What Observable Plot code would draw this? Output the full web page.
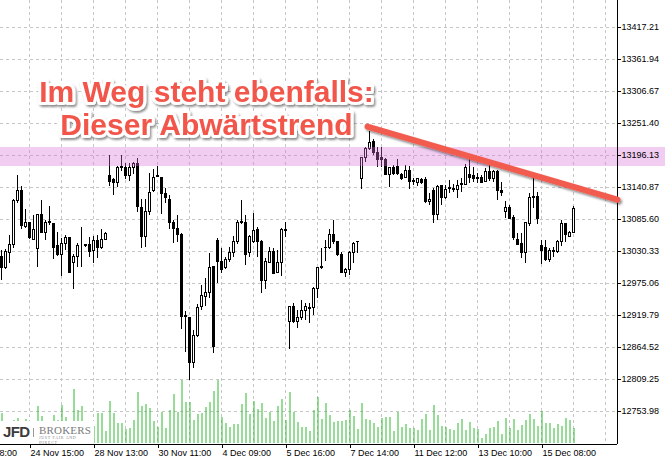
<!DOCTYPE html>
<html><head><meta charset="utf-8">
<script src="https://cdn.jsdelivr.net/npm/d3@7"></script>
<script src="https://cdn.jsdelivr.net/npm/@observablehq/plot@0.6"></script>
<style>
html,body{margin:0;padding:0;background:#fff;}
#wrap{position:relative;width:665px;height:461px;overflow:hidden;background:#fff;}
#wrap svg{position:absolute;left:0;top:0;}
#wrap svg line, #wrap svg rect{shape-rendering:crispEdges;}
#wrap svg.vol line{shape-rendering:auto;}
#logo{position:absolute;left:0;top:421px;width:94px;height:22px;background:#fff;}
#logo .jfd{position:absolute;left:3px;top:2px;font:bold 15px "Liberation Sans",Arial,sans-serif;color:#3c3c3c;letter-spacing:-0.6px;}
#logo .sep{position:absolute;left:33px;top:7px;width:1px;height:9px;background:#999;}
#logo .br{position:absolute;left:39px;top:4px;font:11px "Liberation Serif",serif;color:#7a7a7a;letter-spacing:0.2px;line-height:10px;}
#logo .br small{display:block;font-size:4px;letter-spacing:0.7px;line-height:5px;color:#888;}
</style></head><body><div id="wrap"></div>
<script>
// ---- data ----
const open  = [13020,13001,13027,13042,13118,13134,13072,13079,13051,13034,13093,13063,13082,13077,13039,13025,13044,13053,13010,13020,13041,13041,13042,13032,13048,13037,13051,13160,13153,13148,13175,13174,13160,13175,13181,13106,13056,13098,13134,13159,13158,13130,13120,13080,13070,13058,12919,12915,12837,12885,12934,12951,12959,13003,13048,13013,13001,13015,13027,13046,13080,13079,13027,13046,13067,13046,12980,13011,13029,12994,13011,13067,12908,12934,12908,12915,12927,12933,12932,12966,13002,13036,13036,13058,13046,13025,12994,12999,13027,13046,13156,13191,13208,13219,13200,13191,13189,13163,13175,13177,13163,13158,13170,13151,13149,13153,13153,13115,13134,13093,13143,13122,13139,13136,13137,13146,13146,13162,13160,13155,13158,13151,13168,13155,13168,13134,13098,13105,13089,13051,13044,13027,13077,13122,13125,13039,13036,13015,13030,13029,13046,13077,13056,13063];
const high  = [13032,13034,13058,13120,13162,13143,13103,13080,13093,13094,13118,13084,13108,13079,13063,13053,13058,13055,13025,13044,13072,13042,13055,13056,13058,13068,13063,13196,13157,13177,13196,13182,13182,13184,13191,13120,13120,13165,13172,13177,13158,13139,13127,13084,13093,13061,12927,12916,12894,12939,12972,12984,13027,13004,13053,13036,13020,13037,13056,13084,13118,13093,13058,13096,13072,13049,13018,13037,13036,13032,13070,13080,12935,12941,12928,12946,12941,12941,12968,13003,13036,13049,13068,13084,13047,13029,13001,13030,13046,13048,13193,13210,13238,13224,13210,13210,13191,13175,13179,13189,13165,13179,13177,13156,13156,13156,13158,13130,13139,13144,13144,13144,13153,13146,13153,13156,13181,13191,13175,13165,13162,13174,13179,13170,13170,13149,13117,13110,13093,13061,13061,13080,13130,13158,13132,13049,13049,13036,13037,13049,13084,13079,13065,13108];
const low   = [12980,12999,13010,13036,13113,13068,13070,13051,13049,13003,13061,13049,13075,13017,13022,12987,13032,12992,12965,13003,13003,13037,13020,13010,13018,13034,13049,13143,13127,13141,13169,13155,13151,13163,13098,13036,13037,13093,13132,13158,13095,13113,13068,13044,13046,12896,12856,12808,12828,12882,12928,12935,12949,12854,12975,12992,12999,13011,13020,13042,13077,13006,13020,13044,13020,12958,12965,13010,12991,12992,12987,13055,12861,12906,12897,12911,12911,12906,12920,12949,13000,13013,13034,13042,13022,12992,12985,12989,13010,13027,13137,13184,13205,13196,13175,13175,13162,13141,13162,13162,13153,13156,13137,13144,13143,13146,13113,13110,13079,13084,13110,13120,13130,13132,13122,13132,13144,13148,13149,13148,13147,13149,13151,13149,13118,13125,13087,13085,13049,13041,13018,13010,13074,13105,13077,13008,13013,13011,13020,13027,13039,13046,13055,13061];
const close = [13001,13029,13042,13118,13134,13074,13079,13053,13068,13093,13063,13080,13079,13037,13025,13044,13053,12994,13020,13039,13041,13040,13029,13048,13037,13051,13061,13151,13148,13175,13176,13160,13175,13181,13107,13055,13098,13132,13158,13160,13130,13122,13080,13070,13058,12918,12917,12837,12885,12932,12953,12959,13001,12866,13013,12999,13015,13027,13046,13080,13081,13025,13056,13065,13046,12979,13013,13029,12992,13011,13068,13065,12934,12908,12915,12927,12934,12931,12966,13001,13003,13037,13058,13046,13025,12994,12999,13027,13044,13047,13191,13208,13217,13201,13189,13188,13163,13174,13165,13165,13156,13170,13151,13152,13155,13149,13115,13120,13093,13141,13122,13136,13140,13139,13144,13147,13175,13158,13155,13158,13149,13167,13155,13168,13134,13132,13105,13087,13053,13042,13027,13079,13122,13125,13086,13032,13015,13032,13032,13046,13077,13058,13063,13103];
const volume = [1200,720,680,920,1000,640,960,600,680,1480,1080,600,680,1120,920,1520,1040,600,2160,1320,1480,640,600,680,1200,1200,480,1680,1200,800,800,560,600,920,2040,1480,1560,1400,880,640,1240,600,1320,1960,1240,2520,1640,1640,920,1160,1200,1440,1640,2080,2520,1040,800,640,760,760,1560,2000,1160,1680,1360,1600,1000,1240,880,1480,1760,920,2040,1240,840,640,640,480,1320,1840,960,1600,1120,840,880,880,920,1320,1080,560,1600,960,920,800,640,1000,1040,1040,480,1240,640,760,600,600,520,960,1160,520,1520,1120,680,640,560,520,800,960,520,840,600,560,200,360,600,640,880,360,1000,600,960,520,720,920,1160,960,680,1280,800,800,600,760,680,1000,920,600];
const yTickValues = [12753.98,12809.25,12864.52,12919.79,12975.06,13030.33,13085.60,13140.87,13196.13,13251.40,13306.67,13361.94,13417.21];
const xTickIdx = [-9.75,7,23,39,55,71,87,103,119,135];
const xTickLabels = ["22 Nov 18:00","24 Nov 15:00","28 Nov 13:00","30 Nov 11:00","4 Dec 09:00","5 Dec 16:00","7 Dec 14:00","11 Dec 12:00","13 Dec 10:00","15 Dec 08:00"];
const resistanceZone = [{low: 13177.6, high: 13209.9}];
const trendLine = [{i: 91.5, p: 13246}, {i: 154, p: 13120}];
const annotation = [{i: 51.25, p: 13329, text: "Im Weg steht ebenfalls:\nDieser Abwärtstrend"}];

// ---- build ----
const xDomain = [-0.25, 154];
const yDomain = [12696.97, 13463.85];
const bars = open.map((o, i) => ({i, o, h: high[i], l: low[i], c: close[i], v: volume[i]}));
const gridIdx = d3.range(7, 155, 8);
const font = "'Liberation Sans', Arial, sans-serif";

const main = Plot.plot({
  width: 665, height: 461,
  marginLeft: 0, marginRight: 48, marginTop: 0, marginBottom: 17,
  x: {domain: xDomain},
  y: {domain: yDomain},
  style: {background: "#fff", fontFamily: font, fontSize: "9px", overflow: "visible", color: "#000"},
  marks: [
    Plot.ruleY(yTickValues, {stroke: "#c6c6c6", strokeDasharray: "3,3"}),
    Plot.ruleX(gridIdx, {stroke: "#c6c6c6", strokeDasharray: "3,3"}),
    Plot.ruleX(bars, {x: "i", y1: "l", y2: "h", stroke: "#000"}),
    Plot.rect(bars, {filter: d => d.c >= d.o, x1: d => d.i - 0.25, x2: d => d.i + 0.25, y1: "o", y2: "c", fill: "#fff", stroke: "#000"}),
    Plot.rect(bars, {filter: d => d.c < d.o, x1: d => d.i - 0.25, x2: d => d.i + 0.25, y1: "o", y2: "c", fill: "#000", stroke: "#000"}),
    Plot.rect(resistanceZone, {x1: () => xDomain[0], x2: () => 166.25, y1: "low", y2: "high", fill: "rgb(215,112,215)", fillOpacity: 0.35}),
    Plot.axisY({anchor: "right", ticks: yTickValues, tickFormat: d => d.toFixed(2), tickSize: 3, tickPadding: 1, label: null, fontSize: 9, fill: "#000"}),
    Plot.axisX({ticks: xTickIdx, tickFormat: d => xTickLabels[xTickIdx.indexOf(d)], textAnchor: "start", tickSize: 4, tickPadding: 1, dx: 1, label: null, fontSize: 9, fill: "#000"}),
    Plot.ruleX([xDomain[1]], {stroke: "#000"}),
    Plot.ruleY([yDomain[0]], {stroke: "#000"}),
    Plot.line(trendLine, {x: "i", y: "p", stroke: "#f25c50", strokeWidth: 6}),
    Plot.text(annotation, {x: "i", y: "p", text: "text", lineAnchor: "top", lineHeight: 1.1, fontSize: 30, fontWeight: "bold", fontFamily: font, fill: "#f2574b", stroke: "#fff", strokeWidth: 6, strokeLinejoin: "round"})
  ]
});

// soft drop shadow for the annotation (SVG filter, user-space region)
const ns = "http://www.w3.org/2000/svg";
const defs = document.createElementNS(ns, "defs");
defs.innerHTML = '<filter id="annotShadow" filterUnits="userSpaceOnUse" x="-20" y="-20" width="705" height="501"><feDropShadow dx="1.5" dy="2" stdDeviation="1.3" flood-color="#000" flood-opacity="0.45"/></filter>';
main.insertBefore(defs, main.firstChild);
main.querySelectorAll('g[aria-label="line"], g[aria-label="text"]').forEach(g => g.setAttribute("filter", "url(#annotShadow)"));

const vol = Plot.plot({
  width: 665, height: 461,
  marginLeft: 0, marginRight: 48, marginTop: 0, marginBottom: 17,
  x: {domain: xDomain, axis: null},
  y: {domain: [0, d3.max(volume)], range: [443, 380], axis: null},
  style: {background: "transparent", overflow: "visible"},
  marks: [
    Plot.ruleX(bars, {x: "i", y1: () => 0, y2: "v", stroke: "#2fb82f", strokeWidth: 1, dx: 0.5})
  ]
});
vol.classList.add("vol");

const wrap = document.getElementById("wrap");
wrap.appendChild(main);
wrap.appendChild(vol);
const logo = document.createElement("div");
logo.id = "logo";
logo.innerHTML = '<span class="jfd">JFD</span><span class="sep"></span><span class="br">BROKERS<small>JUST FAIR AND DIRECT</small></span>';
wrap.appendChild(logo);
</script></body></html>
